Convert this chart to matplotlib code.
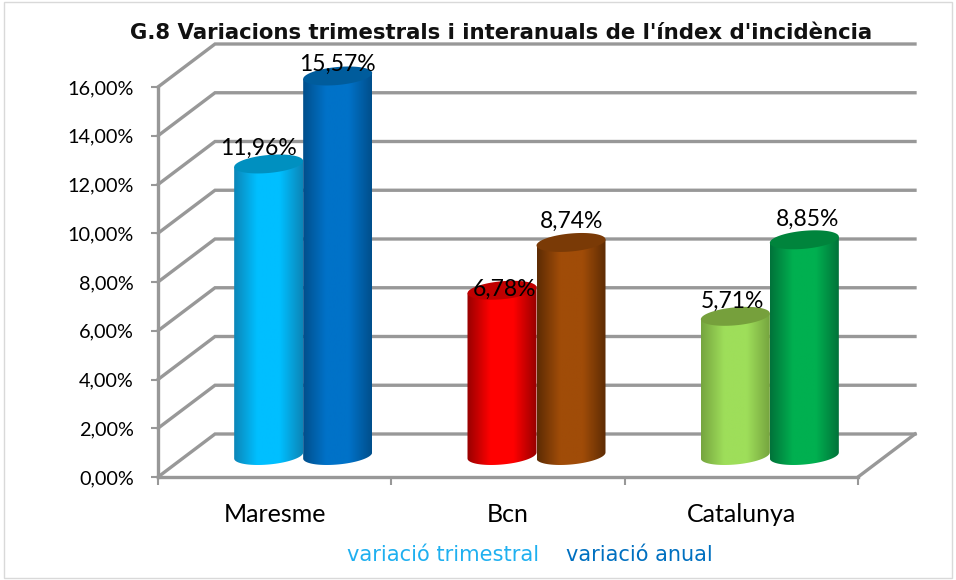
import numpy as np
from matplotlib import pyplot as plt
from matplotlib.colors import LinearSegmentedColormap
from matplotlib.patches import Polygon, Rectangle

categories = ['Maresme', 'Bcn', 'Catalunya']
trimestral = [11.96, 6.78, 5.71]
anual = [15.57, 8.74, 8.85]
yticks = [0, 2, 4, 6, 8, 10, 12, 14, 16]

# (edge, centre, top) colours, one row per category
colors_trim = [('#0c86b8', '#00bfff', '#0090c0'),
               ('#980000', '#ff0000', '#c00000'),
               ('#76a53f', '#9ede5a', '#76a03c')]
colors_anual = [('#004f8c', '#0072c8', '#005c9c'),
                ('#5e2c04', '#a04c08', '#7a3a06'),
                ('#00733a', '#00b050', '#00843c')]

GREY = '#989898'
W, H = 956, 580
X0, X1, Y0, Y16 = 158, 858, 477, 87   # front plane in pixels
PX = 3 / (X1 - X0)                    # data units per pixel
PY = 16 / (Y0 - Y16)
DX, DY = 57 * PX, 43 * PY             # depth of the 3d box

fig = plt.figure(figsize=(W / 100, H / 100), dpi=100)
ax = fig.add_axes([X0 / W, 1 - Y0 / H, (X1 - X0) / W, (Y0 - Y16) / H])

fig.add_artist(Rectangle((4 / W, 2 / H), 948 / W, 576 / H, transform=fig.transFigure,
                         fill=False, ec='#d9d9d9', lw=1))


def wall():
    for v in yticks:
        ax.plot([0, DX, 3 + DX], [v, v + DY, v + DY], color=GREY, lw=2.4, clip_on=False,
                solid_joinstyle='miter', zorder=1)
    ax.plot([3, 3 + DX], [0, DY], color=GREY, lw=2.4, clip_on=False, zorder=1)


def cylinder(xc, val, cols, z):
    a, b, tilt = 34.5 * PX, 9 * PY, 3 * PY
    base = DY / 2
    top = val + base
    t = np.linspace(np.pi, 2 * np.pi, 40)
    low = np.c_[xc + a * np.cos(t), base + b * np.sin(t) + tilt * np.cos(t)]
    pts = np.vstack([[[xc - a, top - tilt]], low, [[xc + a, top + tilt]]])
    body = Polygon(pts, closed=True, fc='none', ec='none', zorder=z, clip_on=False)
    ax.add_patch(body)

    cmap = LinearSegmentedColormap.from_list('c', [cols[0], cols[1], cols[1], cols[0]])
    im = ax.imshow(np.linspace(0, 1, 120)[None, :], cmap=cmap, aspect='auto',
                   extent=(xc - a, xc + a, 0, top + b), zorder=z, interpolation='bilinear')
    im.set_clip_box(fig.bbox)   # the tallest bar rises above the axes
    im.set_clip_path(body)

    t = np.linspace(0, 2 * np.pi, 80)
    lid = np.c_[xc + a * np.cos(t), top + b * np.sin(t) + tilt * np.cos(t)]
    ax.add_patch(Polygon(lid, closed=True, fc=cols[2], ec='none', zorder=z + 0.1, clip_on=False))


wall()
for i in range(len(categories)):
    xc = i + 0.5 + DX / 2
    cylinder(xc - 34.5 * PX, trimestral[i], colors_trim[i], 3)
    cylinder(xc + 34.5 * PX, anual[i], colors_anual[i], 4)

# label nudges from the bar top centre, in pixels
nudge_trim = [(-10, 16), (2, 1), (-3, 15)]
nudge_anual = [(0, 12), (1, 21), (3, 20)]
lab = dict(family='Lato', fontsize=16.5, ha='center', va='center', color='black', zorder=6)
for i in range(len(categories)):
    xc = i + 0.5 + DX / 2
    for s, vals, nudge in ((-1, trimestral, nudge_trim), (1, anual, nudge_anual)):
        txt = f'{vals[i]:.2f}%'.replace('.', ',')
        ax.text(xc + s * 34.5 * PX + nudge[i][0] * PX, vals[i] + DY / 2 + nudge[i][1] * PY, txt, **lab)

ax.set_xlim(0, 3)
ax.set_ylim(0, 16)
ax.set_facecolor('none')
for s in ('top', 'right'):
    ax.spines[s].set_visible(False)
for s in ('left', 'bottom'):
    ax.spines[s].set_color(GREY)
    ax.spines[s].set_linewidth(2.4)
ax.set_yticks(yticks)
ax.set_yticklabels([f'{v:.2f}%'.replace('.', ',') for v in yticks], family='Lato', fontsize=14.3)
ax.set_xticks([0, 1, 2, 3])
ax.set_xticklabels([])
ax.set_xticks([0.5, 1.5, 2.5], minor=True)
ax.set_xticklabels(categories, minor=True, family='Lato', fontsize=18)
ax.tick_params(axis='y', color=GREY, width=1.5, length=5, pad=12.5)
ax.tick_params(axis='x', which='major', color=GREY, width=1.5, length=6)
ax.tick_params(axis='x', which='minor', length=0, pad=19)

fig.text(501 / W, 1 - 33 / H, "G.8 Variacions trimestrals i interanuals de l'índex d'incidència",
         family='DejaVu Sans', fontweight='bold', fontsize=15.3, ha='center', va='center', color='#111111')
fig.text(347 / W, 1 - 555 / H, 'variació trimestral', family='DejaVu Sans', fontsize=15.1,
         color='#1fb0f0', ha='left', va='center')
fig.text(566 / W, 1 - 555 / H, 'variació anual', family='DejaVu Sans', fontsize=15,
         color='#0070c0', ha='left', va='center')

fig.savefig('out.png', dpi=100)
